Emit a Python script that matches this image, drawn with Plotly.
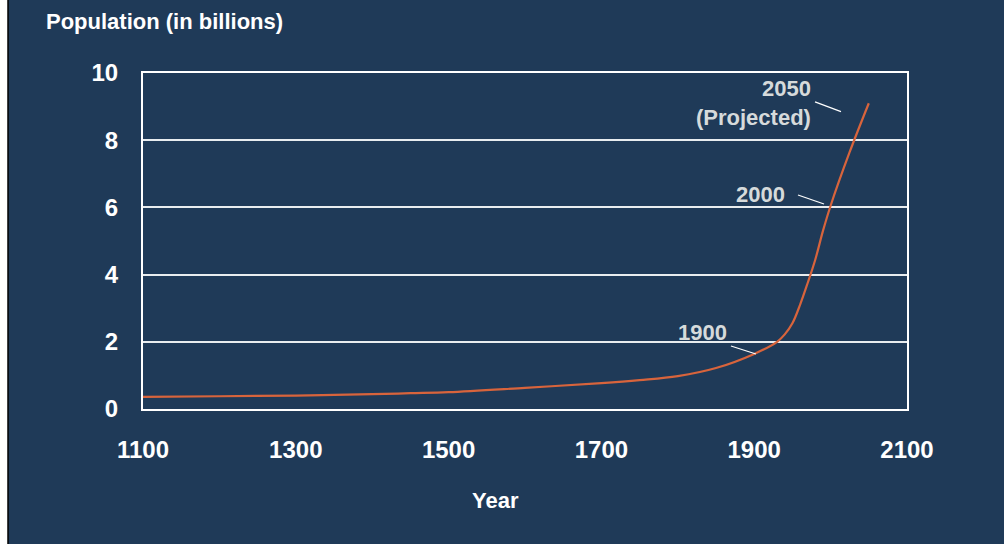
import plotly.graph_objects as go

# World population estimates (billions) by year, with a 2050 projection
years = [1100, 1200, 1300, 1400, 1450, 1500, 1600, 1700, 1750, 1800, 1850,
         1900, 1930, 1940, 1950, 1960, 1970, 1980, 1990, 2000, 2025, 2050]
population = [0.36, 0.38, 0.40, 0.44, 0.47, 0.50, 0.63, 0.77, 0.86, 0.98, 1.22,
              1.64, 2.00, 2.22, 2.55, 3.10, 3.75, 4.45, 5.30, 6.05, 7.65, 9.10]

x_ticks = [1100, 1300, 1500, 1700, 1900, 2100]
y_ticks = [0, 2, 4, 6, 8, 10]

NAVY = "#1f3a58"
LINE = "#d8643c"
LABEL = "#d6dadb"
FONT = "Liberation Sans, Arial, sans-serif"

fig = go.Figure()
fig.add_trace(go.Scatter(
    x=years, y=population, mode="lines",
    line=dict(color=LINE, width=2.2, shape="spline", smoothing=1.0),
    hoverinfo="skip", showlegend=False,
))

fig.update_layout(
    width=1004, height=544,
    margin=dict(l=143, r=97, t=73, b=135),
    paper_bgcolor=NAVY, plot_bgcolor=NAVY,
    font=dict(family=FONT, color="white"),
    xaxis=dict(
        range=[1100, 2100], tickvals=x_ticks, ticktext=[str(v) for v in x_ticks],
        showgrid=False, zeroline=False, showline=True, mirror=True,
        linecolor="white", linewidth=2, ticks="", ticklabelstandoff=18,
        tickfont=dict(size=24, family=FONT, color="white", weight="bold"),
    ),
    yaxis=dict(
        range=[0, 10], tickvals=y_ticks, ticktext=[str(v) for v in y_ticks],
        showgrid=True, gridcolor="#e8ecef", gridwidth=1.5, zeroline=False,
        showline=True, mirror=True, linecolor="white", linewidth=2,
        ticks="", ticklabelstandoff=18,
        tickfont=dict(size=24, family=FONT, color="white", weight="bold"),
    ),
)

# White page edge with a thin dark rule on the left
fig.add_shape(type="rect", xref="paper", yref="paper", xanchor=0, xsizemode="pixel",
              x0=-150, x1=-135, y0=-1, y1=2, fillcolor="white", line_width=0, layer="below")
fig.add_shape(type="line", xref="paper", yref="paper", xanchor=0, xsizemode="pixel",
              x0=-135, x1=-135, y0=-1, y1=2, line=dict(color="black", width=1.5))

# Axis titles
fig.add_annotation(text="<b>Population (in billions)</b>", xref="paper", yref="paper",
                   x=-0.130, y=1.153, xanchor="left", yanchor="middle", showarrow=False,
                   font=dict(size=22, family=FONT, color="white"))
fig.add_annotation(text="<b>Year</b>", xref="paper", yref="paper",
                   x=0.461, y=-0.272, xanchor="center", yanchor="middle", showarrow=False,
                   font=dict(size=22, family=FONT, color="white"))

# Point labels with leader lines
labels = [
    ("<b>1900</b>", 1867, 2.29),
    ("<b>2000</b>", 1943, 6.37),
    ("<b>2050<br>(Projected)</b>", 1977, 9.12),
]
for txt, lx, ly in labels:
    fig.add_annotation(text=txt, x=lx, y=ly, xanchor="right", yanchor="middle", align="right",
                       showarrow=False, font=dict(size=22, family=FONT, color=LABEL))

leaders = [
    (1869.6, 1.875, 1902.3, 1.637),
    (1957.3, 6.37, 1991.4, 6.10),
    (1979.6, 9.14, 2013.6, 8.85),
]
for x0, y0, x1, y1 in leaders:
    fig.add_shape(type="line", x0=x0, y0=y0, x1=x1, y1=y1, line=dict(color="white", width=1.2))

fig.write_html("out.html")
